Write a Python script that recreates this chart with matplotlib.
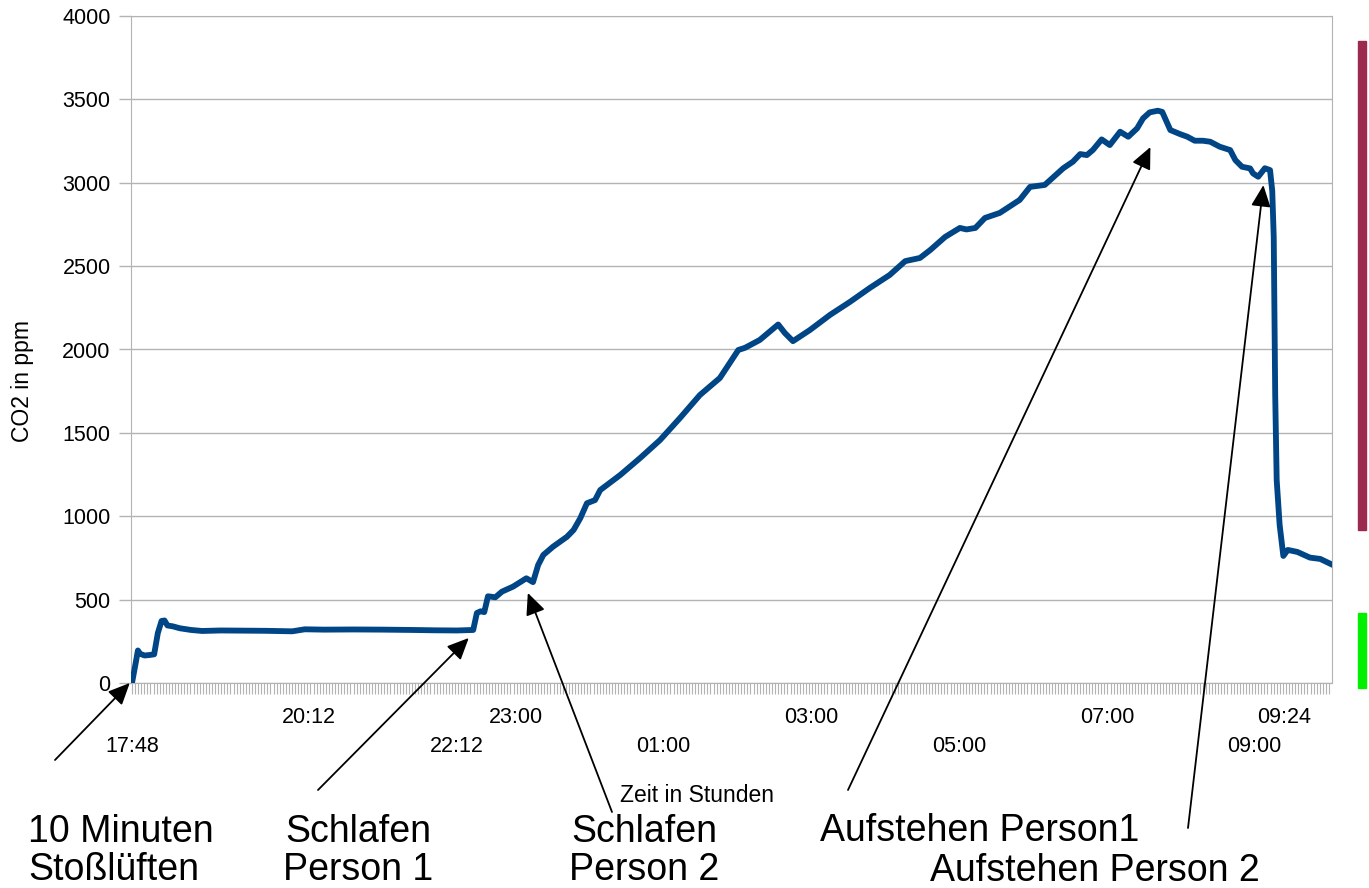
import matplotlib
matplotlib.use("Agg")
import matplotlib.pyplot as plt
from matplotlib.ticker import MultipleLocator
from matplotlib.patches import Rectangle

plt.rcParams['font.family'] = ['Liberation Sans', 'DejaVu Sans']

# CO2 readings, hours after 17:48
hours = [0.00, 0.05, 0.08, 0.11, 0.17, 0.24, 0.30, 0.35, 0.40, 0.44, 0.48, 0.55,
         0.65, 0.80, 0.95, 1.20, 1.50, 1.80, 2.17, 2.34, 2.60, 3.00, 3.40, 3.80,
         4.10, 4.40, 4.62, 4.67, 4.72, 4.77, 4.82, 4.92, 5.01, 5.16, 5.34, 5.43,
         5.50, 5.57, 5.70, 5.89, 5.98, 6.07, 6.16, 6.27, 6.34, 6.61, 6.88, 7.15,
         7.42, 7.69, 7.96, 8.21, 8.30, 8.50, 8.75, 8.84, 8.95, 9.18, 9.45, 9.72,
         9.99, 10.26, 10.47, 10.67, 10.81, 11.01, 11.21, 11.30, 11.42, 11.55, 11.75, 12.02,
         12.16, 12.36, 12.61, 12.74, 12.84, 12.93, 13.01, 13.13, 13.24, 13.38, 13.49, 13.61,
         13.69, 13.78, 13.89, 13.95, 14.06, 14.19, 14.29, 14.39, 14.50, 14.60, 14.73, 14.87,
         14.94, 15.03, 15.14, 15.18, 15.25, 15.34, 15.41, 15.44, 15.46, 15.48, 15.50, 15.54,
         15.59, 15.65, 15.78, 15.95, 16.09, 16.25]
co2 = [0, 120, 195, 175, 165, 168, 172, 300, 372, 375, 345, 340,
       328, 318, 312, 315, 314, 313, 310, 322, 320, 321, 320, 318,
       316, 315, 318, 420, 430, 425, 520, 514, 548, 578, 628, 605,
       708, 768, 817, 877, 918, 988, 1078, 1097, 1157, 1247, 1349, 1457,
       1589, 1727, 1829, 1997, 2010, 2057, 2150, 2099, 2050, 2117, 2207, 2285,
       2369, 2447, 2530, 2549, 2597, 2675, 2729, 2720, 2729, 2789, 2819, 2897,
       2975, 2987, 3087, 3126, 3172, 3166, 3196, 3260, 3226, 3306, 3276, 3326,
       3386, 3422, 3432, 3425, 3316, 3292, 3276, 3252, 3252, 3246, 3216, 3196,
       3136, 3096, 3086, 3056, 3036, 3087, 3076, 2950, 2675, 1727, 1217, 948,
       762, 798, 786, 752, 744, 710]

# x tick labels (staggered in two rows)
upper_labels = ["20:12", "23:00", "03:00", "07:00", "09:24"]
upper_pos = [2.4, 5.2, 9.2, 13.2, 15.6]
lower_labels = ["17:48", "22:12", "01:00", "05:00", "09:00"]
lower_pos = [0.0, 4.4, 7.2, 11.2, 15.2]

# annotations: text, arrow head (hours, ppm)
notes = ["10 Minuten\nStoßlüften", "Schlafen\nPerson 1", "Schlafen\nPerson 2",
         "Aufstehen Person1", "Aufstehen Person 2"]
note_heads = [(-0.03, 0), (4.56, 270), (5.36, 540), (13.79, 3214), (15.32, 2986)]

fig = plt.figure(figsize=(13.69, 8.88), dpi=100)
ax = fig.add_axes([131 / 1369, 205 / 888, 1201 / 1369, 667 / 888])

ax.plot(hours, co2, color='#004586', lw=4.2, solid_joinstyle='round', zorder=3)

ax.set_xlim(-0.0135, 16.249)
ax.set_ylim(0, 4000)
ax.yaxis.set_major_locator(MultipleLocator(500))
ax.xaxis.set_major_locator(MultipleLocator(1 / 24))
ax.set_xticklabels([])
ax.grid(axis='y', color='#b3b3b3', lw=1)
ax.set_axisbelow(True)
for s in ax.spines.values():
    s.set_color('#b3b3b3')
ax.tick_params(axis='x', direction='out', length=8, width=0.8, color='#b3b3b3')
ax.tick_params(axis='y', direction='out', length=8.6, width=1, color='#b3b3b3',
               labelsize=15.5, pad=6)

tr = ax.get_xaxis_transform()
for lab, p in zip(upper_labels, upper_pos):
    ax.text(p, -0.051, lab, transform=tr, ha='center', va='center', fontsize=15.5)
for lab, p in zip(lower_labels, lower_pos):
    ax.text(p, -0.0945, lab, transform=tr, ha='center', va='center', fontsize=15.5)

fig.text(23 / 1369, 1 - 381 / 888, "CO2 in ppm", rotation=90, ha='center', va='center', fontsize=16.5)
fig.text(697 / 1369, 1 - 796 / 888, "Zeit in Stunden", ha='center', va='center', fontsize=16.5)

# big labels
fig.text(28 / 1369, 1 - 851 / 888, notes[0], ha='left', va='center', fontsize=27, linespacing=1.09)
fig.text(358 / 1369, 1 - 851 / 888, notes[1], ha='center', va='center', fontsize=27,
         linespacing=1.09, multialignment='center')
fig.text(644 / 1369, 1 - 851 / 888, notes[2], ha='center', va='center', fontsize=27,
         linespacing=1.09, multialignment='center')
fig.text(820 / 1369, 1 - 831 / 888, notes[3], ha='left', va='center', fontsize=27)
fig.text(930 / 1369, 1 - 871 / 888, notes[4], ha='left', va='center', fontsize=27)

# arrows (tails in figure pixels)
tails = [(55, 760), (318, 790), (612, 812), (848, 790), (1188, 828)]
for (hx, hy), (tx, ty) in zip(note_heads, tails):
    ax.annotate("", xy=(hx, hy), xycoords='data', xytext=(tx, 888 - ty),
                textcoords='figure pixels', annotation_clip=False,
                arrowprops=dict(arrowstyle='-|>,head_length=1.1,head_width=0.5',
                                mutation_scale=12, color='black', lw=1.3,
                                shrinkA=0, shrinkB=0))

# colour bars at the right edge
fig.patches.append(Rectangle((1358 / 1369, 1 - 530 / 888), 8 / 1369, 489 / 888,
                             transform=fig.transFigure, color='#9c2a4f'))
fig.patches.append(Rectangle((1358 / 1369, 1 - 688 / 888), 8 / 1369, 75 / 888,
                             transform=fig.transFigure, color='#00f000'))

fig.savefig("out.png", dpi=100)
